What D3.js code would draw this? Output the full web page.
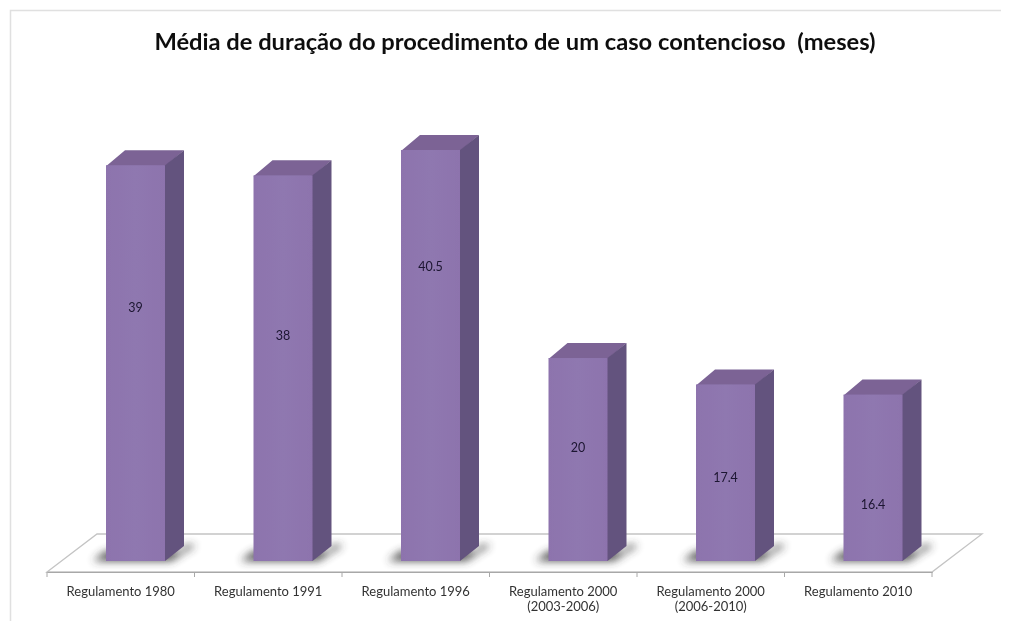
<!DOCTYPE html>
<html><head><meta charset="utf-8">
<script src="https://cdn.jsdelivr.net/npm/d3@7"></script>
<style>html,body{margin:0;padding:0;background:#fff}svg{display:block}</style>
</head><body><svg id="c" width="1011" height="621"></svg>
<script>
const titleText = "Média de duração do procedimento de um caso contencioso  (meses)";
const categories = ["Regulamento 1980","Regulamento 1991","Regulamento 1996","Regulamento 2000\n(2003-2006)","Regulamento 2000\n(2006-2010)","Regulamento 2010"];
const values = [39,38,40.5,20,17.4,16.4];
const labelLevels = [25,22.2,29,11.2,8.2,5.6];

const W=1011,H=621;
const svg=d3.select("#c");
const font="Lato, 'Open Sans', sans-serif";
const defs=svg.append("defs");
defs.append("filter").attr("id","soft").append("feGaussianBlur").attr("stdDeviation",0.55);
const sh=defs.append("filter").attr("id","shadow").attr("x","-40%").attr("y","-100%").attr("width","180%").attr("height","300%");
sh.append("feGaussianBlur").attr("stdDeviation",4.2);
const g=defs.append("linearGradient").attr("id","front");
g.append("stop").attr("offset","0").attr("stop-color","#8d73ad");
g.append("stop").attr("offset","0.5").attr("stop-color","#8f78b0");
g.append("stop").attr("offset","1").attr("stop-color","#8d73ad");

const root=svg.append("g").attr("filter","url(#soft)");
// frame
root.append("path").attr("d",`M10.5,${H}V10.5H${W-10}`).attr("fill","none").attr("stroke","#e0e0e0").attr("stroke-width",1.5);

root.append("text").attr("x",515).attr("y",49.5).attr("text-anchor","middle")
 .attr("font-family",font).attr("font-weight",700).attr("font-size",23.7).attr("fill","#111")
 .attr("xml:space","preserve").style("white-space","pre").text(titleText);

const frontY=572, floorDy=38, floorDx=50;
const x=d3.scaleBand().domain(categories).range([47,932]);
const y=d3.scaleLinear().domain([0,40.5]).range([561,150]);
const barW=59, depthX=19, depthY=15;
const barLeft=c=>x(c)+59;

// floor
root.append("path")
 .attr("d",`M47,${frontY}L${47+floorDx},${frontY-floorDy}H${932+floorDx}L932,${frontY}Z`)
 .attr("fill","#fff").attr("stroke","#c4c4c4").attr("stroke-width",1.3);

// axis
const axis=d3.axisBottom(x).tickSize(0).tickPadding(0);
const ax=root.append("g").attr("transform",`translate(0,${frontY})`).call(axis);
ax.select(".domain").attr("stroke","#a8a8a8").attr("stroke-width",1.2);
ax.selectAll(".tick text").each(function(d){
  const t=d3.select(this).text(null).attr("y",0).attr("dy",null);
  d.split("\n").forEach((line,i)=>t.append("tspan").attr("x",0).attr("y",23.5+i*15.5).text(line));
}).attr("font-family",font).attr("font-size",13).attr("fill","#333");
ax.selectAll("line.b").data(d3.range(7)).enter().append("line").attr("class","b")
 .attr("x1",i=>47+i*x.step()).attr("x2",i=>47+i*x.step()).attr("y1",0).attr("y2",5)
 .attr("stroke","#a8a8a8").attr("stroke-width",1);

const rows=categories.map((c,i)=>({c,v:values[i],l:labelLevels[i]}));
// shadows
root.selectAll("path.sh").data(rows).enter().append("path").attr("class","sh")
 .attr("d",d=>{const l=barLeft(d.c),b=y(0);return `M${l-13},${b}L${l},${b-10}H${l+barW+depthX}V${b-16}H${l+barW+depthX+12}L${l+barW+6},${b}Z`;})
 .attr("fill","#333").attr("opacity",0.85).attr("filter","url(#shadow)");

const bars=root.selectAll("g.bar").data(rows).enter().append("g").attr("class","bar");
bars.append("path").attr("fill","#7b6395")
 .attr("d",d=>{const l=barLeft(d.c),t=y(d.v);return `M${l},${t+1}l${depthX},${-depthY-1}h${barW}l${-depthX},${depthY+1}Z`;});
bars.append("path").attr("fill","#64527e")
 .attr("d",d=>{const l=barLeft(d.c)+barW,t=y(d.v),b=y(0);return `M${l-1},${t}h1l${depthX},${-depthY}V${b-depthY}L${l},${b}h-1Z`;});
bars.append("rect").attr("fill","url(#front)")
 .attr("x",d=>barLeft(d.c)).attr("y",d=>y(d.v)).attr("width",barW).attr("height",d=>y(0)-y(d.v));
bars.append("text").attr("x",d=>barLeft(d.c)+barW/2).attr("y",d=>y(d.l)+4.5)
 .attr("text-anchor","middle").attr("font-family",font).attr("font-size",12.5).attr("fill","#1c1530")
 .text(d=>d.v);
</script></body></html>
